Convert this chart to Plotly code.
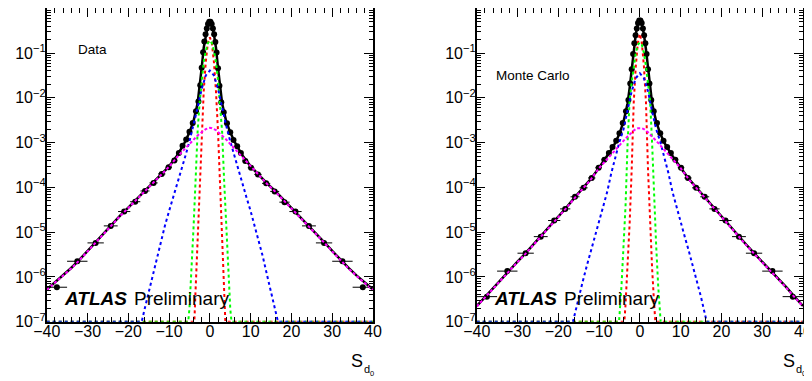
import plotly.graph_objects as go

# ---------------- values (log10 of y) ----------------
# data points (bin centres), shared binning
pt_x = [-37.5, -32.5, -28.0, -24.3, -21.0, -18.3, -15.9, -13.8, -11.8, -10.1, -8.7, -7.6, -6.7, -5.8, -5.0, -4.2,
        -3.4, -2.8, -2.35, -2.0, -1.65, -1.35, -1.05, -0.75, -0.45, -0.15,
        0.15, 0.45, 0.75, 1.05, 1.35, 1.65, 2.0, 2.35, 2.8, 3.4,
        4.2, 5.0, 5.8, 6.7, 7.6, 8.7, 10.1, 11.8, 13.8, 15.9, 18.3, 21.0, 24.3, 28.0, 32.5, 37.5]
pt_xerr = [2.5, 2.5, 2.0, 1.7, 1.5, 1.25, 1.1, 1.0, 0.9, 0.8, 0.7, 0.55, 0.45, 0.45, 0.4, 0.4,
           0.35, 0.3, 0.2, 0.17, 0.15, 0.15, 0.15, 0.15, 0.15, 0.15,
           0.15, 0.15, 0.15, 0.15, 0.15, 0.15, 0.17, 0.2, 0.3, 0.35,
           0.4, 0.4, 0.45, 0.45, 0.55, 0.7, 0.8, 0.9, 1.0, 1.1, 1.25, 1.5, 1.7, 2.0, 2.5, 2.5]
data_pt_log = [-6.23, -5.65, -5.24, -4.86, -4.54, -4.32, -4.08, -3.90, -3.70, -3.55, -3.40, -3.23, -3.07, -2.93, -2.76, -2.56,
               -2.30, -2.08, -1.72, -1.33, -0.98, -0.74, -0.58, -0.45, -0.35, -0.30,
               -0.30, -0.35, -0.45, -0.58, -0.75, -0.99, -1.34, -1.73, -2.10, -2.32,
               -2.57, -2.77, -2.94, -3.08, -3.23, -3.41, -3.56, -3.71, -3.91, -4.09, -4.33, -4.54, -4.86, -5.24, -5.65, -6.23]
mc_pt_log = [-6.44, -5.87, -5.47, -5.10, -4.74, -4.48, -4.21, -4.01, -3.79, -3.56, -3.38, -3.23, -3.10, -2.96, -2.79, -2.56,
             -2.30, -2.05, -1.68, -1.36, -1.02, -0.78, -0.60, -0.45, -0.33, -0.27,
             -0.27, -0.33, -0.45, -0.60, -0.78, -1.02, -1.36, -1.68, -2.05, -2.30,
             -2.56, -2.79, -2.96, -3.10, -3.23, -3.38, -3.56, -3.79, -4.01, -4.21, -4.48, -4.74, -5.10, -5.47, -5.87, -6.44]

# total fit and broad (magenta) component
tot_x = [-40, -38, -36, -34, -32, -30, -28, -26, -24, -22, -20, -18, -16, -14, -12, -10, -8, -7, -6, -5, -4, -3,
         -2.5, -2, -1.5, -1, -0.5, 0, 0.5, 1, 1.5, 2, 2.5,
         3, 4, 5, 6, 7, 8, 10, 12, 14, 16, 18, 20, 22, 24, 26, 28, 30, 32, 34, 36, 38, 40]
data_tot_log = [-6.28, -6.12, -5.97, -5.80, -5.62, -5.42, -5.22, -5.03, -4.83, -4.63, -4.45, -4.27, -4.08, -3.91, -3.73, -3.53,
                -3.29, -3.14, -2.97, -2.77, -2.52, -2.12, -1.78, -1.33, -0.88, -0.58, -0.38, -0.31, -0.38, -0.58, -0.88,
                -1.33, -1.78, -2.12, -2.52, -2.77, -2.97, -3.14, -3.29, -3.53, -3.73, -3.91, -4.08, -4.27, -4.45, -4.63,
                -4.83, -5.03, -5.22, -5.42, -5.62, -5.80, -5.97, -6.12, -6.28]
data_mag_log = [-6.29, -6.13, -5.98, -5.81, -5.63, -5.43, -5.23, -5.04, -4.84, -4.64, -4.46, -4.28, -4.09, -3.92, -3.74, -3.54,
                -3.32, -3.22, -3.13, -3.03, -2.93, -2.84, -2.80, -2.76, -2.72, -2.70, -2.68, -2.67, -2.68, -2.70, -2.72,
                -2.76, -2.80, -2.84, -2.93, -3.03, -3.13, -3.22, -3.32, -3.54, -3.74, -3.92, -4.09, -4.28, -4.46, -4.64,
                -4.84, -5.04, -5.23, -5.43, -5.63, -5.81, -5.98, -6.13, -6.29]
mc_tot_log = [-6.65, -6.45, -6.24, -6.04, -5.85, -5.66, -5.47, -5.27, -5.07, -4.86, -4.65, -4.45, -4.23, -4.02, -3.81, -3.56,
              -3.30, -3.16, -3.00, -2.80, -2.53, -2.12, -1.78, -1.36, -0.92, -0.58, -0.35, -0.27, -0.35, -0.58, -0.92,
              -1.36, -1.78, -2.12, -2.53, -2.80, -3.00, -3.16, -3.30, -3.56, -3.81, -4.02, -4.23, -4.45, -4.65, -4.86,
              -5.07, -5.27, -5.47, -5.66, -5.85, -6.04, -6.24, -6.45, -6.65]
mc_mag_log = [-6.66, -6.46, -6.25, -6.05, -5.86, -5.67, -5.48, -5.28, -5.08, -4.87, -4.66, -4.46, -4.24, -4.03, -3.82, -3.57,
              -3.36, -3.26, -3.16, -3.06, -2.96, -2.86, -2.82, -2.77, -2.73, -2.70, -2.68, -2.68, -2.68, -2.70, -2.73,
              -2.77, -2.82, -2.86, -2.96, -3.06, -3.16, -3.26, -3.36, -3.57, -3.82, -4.03, -4.24, -4.46, -4.66, -4.87,
              -5.08, -5.28, -5.48, -5.67, -5.86, -6.05, -6.25, -6.46, -6.66]

# blue component
data_blue_x = [-40, -16.7, -16, -15, -14, -13, -12, -11, -10, -9, -8, -7, -6, -5, -4, -3, -2, -1, 0,
               1, 2, 3, 4, 5, 6, 7, 8, 9, 10, 11, 12, 13, 14, 15, 16, 16.7, 40]
data_blue_log = [-7, -7, -6.72, -6.35, -5.95, -5.55, -5.18, -4.85, -4.53, -4.23, -3.93, -3.63, -3.30, -2.97, -2.62, -2.22,
                 -1.80, -1.50, -1.39, -1.50, -1.80, -2.22, -2.62, -2.97, -3.30, -3.63, -3.93, -4.23, -4.53, -4.85,
                 -5.18, -5.55, -5.95, -6.35, -6.72, -7, -7]
mc_blue_x = [-40, -16.4, -16, -15, -14, -13, -12, -11, -10, -9, -8, -7, -6, -5, -4, -3, -2, -1, 0,
             1, 2, 3, 4, 5, 6, 7, 8, 9, 10, 11, 12, 13, 14, 15, 16, 16.4, 40]
mc_blue_log = [-7, -7, -6.85, -6.45, -6.10, -5.75, -5.42, -5.10, -4.78, -4.45, -4.10, -3.68, -3.30, -2.98, -2.70, -2.30,
               -1.85, -1.56, -1.45, -1.56, -1.85, -2.30, -2.70, -2.98, -3.30, -3.68, -4.10, -4.45, -4.78, -5.10,
               -5.42, -5.75, -6.10, -6.45, -6.85, -7, -7]

# green component
data_green_x = [-40, -5.3, -5, -4.5, -4, -3.5, -3, -2.5, -2, -1.5, -1, -0.5, 0, 0.5, 1, 1.5, 2, 2.5, 3, 3.5, 4, 4.5, 5, 5.3, 40]
data_green_log = [-7, -7, -6.7, -5.9, -4.9, -3.85, -2.75, -2.1, -1.6, -1.2, -0.95, -0.78, -0.72,
                  -0.78, -0.95, -1.2, -1.6, -2.1, -2.75, -3.85, -4.9, -5.9, -6.7, -7, -7]
mc_green_x = [-40, -5.1, -4.5, -4, -3.5, -3, -2.5, -2, -1.5, -1, -0.5, 0, 0.5, 1, 1.5, 2, 2.5, 3, 3.5, 4, 4.5, 5.1, 40]
mc_green_log = [-7, -7, -6.2, -5.3, -4.4, -3.0, -2.05, -1.65, -1.3, -1.0, -0.82, -0.76,
                -0.82, -1.0, -1.3, -1.65, -2.05, -3.0, -4.4, -5.3, -6.2, -7, -7]

# red component
red_x = [-40, -3.8, -3.5, -3, -2.5, -2, -1.5, -1, -0.5, 0, 0.5, 1, 1.5, 2, 2.5, 3, 3.5, 3.8, 40]
data_red_log = [-7, -7, -6.3, -5.1, -3.9, -2.75, -1.85, -1.2, -0.78, -0.65, -0.78, -1.2, -1.85, -2.75, -3.9, -5.1, -6.3, -7, -7]
mc_red_log = [-7, -7, -6.6, -5.8, -4.8, -3.6, -2.1, -1.3, -0.78, -0.57, -0.78, -1.3, -2.1, -3.6, -4.8, -5.8, -6.6, -7, -7]

y_tickvals = [1e-7, 1e-6, 1e-5, 1e-4, 1e-3, 1e-2, 1e-1, 1]
y_ticktext = ['10<sup>\u22127</sup>', '10<sup>\u22126</sup>', '10<sup>\u22125</sup>', '10<sup>\u22124</sup>',
              '10<sup>\u22123</sup>', '10<sup>\u22122</sup>', '10<sup>\u22121</sup>', '1']
x_tickvals = [-40, -30, -20, -10, 0, 10, 20, 30, 40]
x_ticktext = ['\u221240', '\u221230', '\u221220', '\u221210', '0', '10', '20', '30', '40']
panel_labels = ['Data', 'Monte Carlo']

# the page body has an 8px margin: figure placed at (8, 8) of the window
OFF = 8
W, H = 812 - OFF, 381 - OFF


def px(x):
    return (x - OFF) / W


def py(y):
    return 1 - (y - OFF) / H


def p(v):
    return [10 ** a for a in v]


fig = go.Figure()
FONT = 'Liberation Sans, Arial, Helvetica, sans-serif'

panels = [
    (data_pt_log, data_tot_log, data_mag_log, data_blue_x, data_blue_log, data_green_x, data_green_log, data_red_log),
    (mc_pt_log, mc_tot_log, mc_mag_log, mc_blue_x, mc_blue_log, mc_green_x, mc_green_log, mc_red_log),
]
for i, (ptl, totl, magl, bx, bl, gx, gl, rl) in enumerate(panels):
    xa = 'x' if i == 0 else 'x2'
    ya = 'y' if i == 0 else 'y2'
    fig.add_trace(go.Scatter(x=tot_x, y=p(totl), mode='lines', line=dict(color='black', width=2.5),
                             xaxis=xa, yaxis=ya, showlegend=False))
    fig.add_trace(go.Scatter(x=pt_x, y=p(ptl), mode='markers',
                             marker=dict(color='black', size=6, symbol='circle'),
                             error_x=dict(type='data', array=pt_xerr, width=0, thickness=1, color='black'),
                             xaxis=xa, yaxis=ya, showlegend=False))
    fig.add_trace(go.Scatter(x=red_x, y=p(rl), mode='lines', line=dict(color='#ff0000', width=2, dash='dot'),
                             xaxis=xa, yaxis=ya, showlegend=False))
    fig.add_trace(go.Scatter(x=gx, y=p(gl), mode='lines', line=dict(color='#00ff00', width=2, dash='dot'),
                             xaxis=xa, yaxis=ya, showlegend=False))
    fig.add_trace(go.Scatter(x=bx, y=p(bl), mode='lines', line=dict(color='#0000ff', width=2, dash='dot'),
                             xaxis=xa, yaxis=ya, showlegend=False))
    fig.add_trace(go.Scatter(x=tot_x, y=p(magl), mode='lines', line=dict(color='#ff00ff', width=2, dash='3px,2px'),
                             xaxis=xa, yaxis=ya, showlegend=False))

xcommon = dict(range=[-40, 40], tickmode='array', tickvals=x_tickvals, ticktext=x_ticktext,
               ticks='inside', ticklen=9, automargin=False, ticklabelstandoff=-6,
               tickwidth=1, tickcolor='black', showline=True, linecolor='black', linewidth=1.5,
               mirror='allticks', showgrid=False, zeroline=False,
               tickfont=dict(family=FONT, size=16, color='black'),
               minor=dict(tickmode='linear', tick0=-40, dtick=2, ticks='inside', ticklen=4.5,
                          tickcolor='black', showgrid=False))
ycommon = dict(type='log', range=[-7, 0], tickmode='array', tickvals=y_tickvals, ticktext=y_ticktext,
               ticks='inside', ticklen=9, tickwidth=1, tickcolor='black', showline=True, linecolor='black',
               linewidth=1.5, mirror='allticks', showgrid=False, zeroline=False, automargin=False,
               ticklabelstandoff=-4,
               tickfont=dict(family=FONT, size=16, color='black'),
               minor=dict(dtick='D1', ticks='inside', ticklen=4.5, tickcolor='black', showgrid=False))

fig.update_layout(
    width=W, height=H, margin=dict(l=0, r=0, t=0, b=0, autoexpand=False),
    paper_bgcolor='white', plot_bgcolor='white',
    xaxis=dict(domain=[px(46.7), px(373)], anchor='y', **xcommon),
    yaxis=dict(domain=[py(321.7), py(8.3)], anchor='x', **ycommon),
    xaxis2=dict(domain=[px(476.7), px(803)], anchor='y2', **xcommon),
    yaxis2=dict(domain=[py(321.7), py(8.3)], anchor='x2', **ycommon),
)


def ann(text, x, y, size, xanchor='left', yanchor='middle', bold=False, italic=False):
    t = text
    if bold:
        t = '<b>' + t + '</b>'
    if italic:
        t = '<i>' + t + '</i>'
    fig.add_annotation(text=t, x=px(x), y=py(y), xref='paper', yref='paper', showarrow=False,
                       xanchor=xanchor, yanchor=yanchor, font=dict(family=FONT, size=size, color='black'))


ann(panel_labels[0], 76, 49.5, 13.5)
ann(panel_labels[1], 494, 75, 13.5)
for x0 in (62, 492):
    ann('ATLAS', x0, 298, 19, bold=True, italic=True)
    ann('Preliminary', x0 + 70, 298, 19)
for sx in (349, 781):
    ann('S', sx, 361, 18)
    ann('d', sx + 12.5, 369, 11)
    ann('0', sx + 18.5, 373, 7.5)

fig.write_html('out.html')
